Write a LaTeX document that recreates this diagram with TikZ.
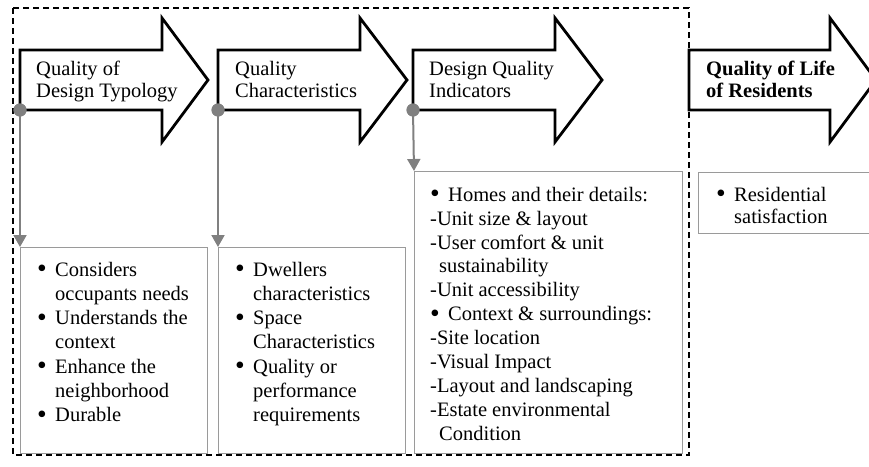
\documentclass[tikz,border=0pt]{standalone}
\usepackage{fontspec}
\setmainfont{Liberation Serif}
\usetikzlibrary{arrows.meta}
\newcommand{\firstlinestrut}{\rule{0pt}{15pt}}
\newcommand{\bigbul}{\raisebox{-1.6pt}{\scalebox{1.35}{\textbullet}}}
\newcommand{\bl}{\makebox[18pt][l]{\bigbul}}
\newcommand{\ind}{\hspace*{18pt}}
\definecolor{conngray}{HTML}{808080}
\definecolor{boxgray}{HTML}{9A9A9A}
\tikzset{
  bigarrow/.style={draw=black, fill=white, line width=2.8pt, line join=miter},
  atxt/.style={anchor=north west, inner sep=0pt, align=left, font=\fontsize{20.5}{22.5}\selectfont},
  btxt/.style={anchor=north west, inner sep=0pt, align=left, font=\fontsize{20.5}{24.2}\selectfont},
  boxrect/.style={draw=boxgray, line width=1.2pt, fill=white, anchor=north west, inner sep=0pt},
  dot/.style={circle, fill=conngray, inner sep=0pt, minimum size=13pt},
  conn/.style={draw=conngray, line width=2pt, -{Triangle[width=13pt,length=12pt]}},
  groupbox/.style={draw=black, line width=1.3pt, dash pattern=on 6pt off 4pt}
}
\begin{document}
\begin{tikzpicture}[x=1pt,y=-1pt]
\useasboundingbox (0,0) rectangle (869,466);
\clip (0,0) rectangle (869,466);
% group box
\draw[groupbox] (13,8) rectangle (689,455);
% boxes
\node[boxrect, minimum width=187pt, minimum height=206pt] (b1) at (20,247) {};
\node[boxrect, minimum width=187pt, minimum height=206pt] (b2) at (218,247) {};
\node[boxrect, minimum width=268pt, minimum height=282pt] (b3) at (414,171) {};
\node[boxrect, minimum width=175pt, minimum height=61pt] (b4) at (698,172) {};
% big arrows
\draw[bigarrow] (20,50) -- (162,50) -- (162,18) -- (208,80) -- (162,142) -- (162,110) -- (20,110) -- cycle;
\draw[bigarrow] (218,50) -- (360,50) -- (360,18) -- (407,80) -- (360,142) -- (360,110) -- (218,110) -- cycle;
\draw[bigarrow] (413,50) -- (555,50) -- (555,18) -- (602,80) -- (555,142) -- (555,110) -- (413,110) -- cycle;
\draw[bigarrow] (689,50) -- (830,50) -- (830,18) -- (876,80) -- (830,142) -- (830,110) -- (689,110) -- cycle;
% arrow texts
\node[atxt] (a1) at (36,60) {\firstlinestrut Quality of\\Design Typology};
\node[atxt] (a2) at (235,60) {\firstlinestrut Quality\\Characteristics};
\node[atxt] (a3) at (429,60) {\firstlinestrut Design Quality\\Indicators};
\node[atxt, font=\fontsize{20.5}{22.5}\selectfont\bfseries] (a4) at (706,60) {\firstlinestrut Quality of Life\\of Residents};
% dots and connectors
\node[dot] (d1) at (20,110) {};
\node[dot] (d2) at (218,110) {};
\node[dot] (d3) at (413,110) {};
\draw[conn] (d1.center) -- (b1.north west);
\draw[conn] (d2.center) -- (b2.north west);
\draw[conn] (d3.center) -- (b3.north west);
\node[dot] at (d1) {};
\node[dot] at (d2) {};
\node[dot] at (d3) {};
% box texts
\node[btxt] (t1) at (37,261) {\firstlinestrut\bl Considers\\
\ind occupants needs\\
\bl Understands the\\
\ind context\\
\bl Enhance the\\
\ind neighborhood\\
\bl Durable};
\node[btxt] (t2) at (235,261) {\firstlinestrut\bl Dwellers\\
\ind characteristics\\
\bl Space\\
\ind Characteristics\\
\bl Quality or\\
\ind performance\\
\ind requirements};
\node[btxt, font=\fontsize{20.5}{23.9}\selectfont] (t3) at (430,186) {\firstlinestrut\bl Homes and their details:\\
-Unit size \& layout\\
-User comfort \& unit\\
\hspace*{9pt}sustainability\\
-Unit accessibility\\
\bl Context \& surroundings:\\
-Site location\\
-Visual Impact\\
-Layout and landscaping\\
-Estate environmental\\
\hspace*{9pt}Condition};
\node[btxt, font=\fontsize{20.5}{22}\selectfont] (t4) at (716,186) {\firstlinestrut\bl Residential\\
\ind satisfaction};
\end{tikzpicture}
\end{document}
